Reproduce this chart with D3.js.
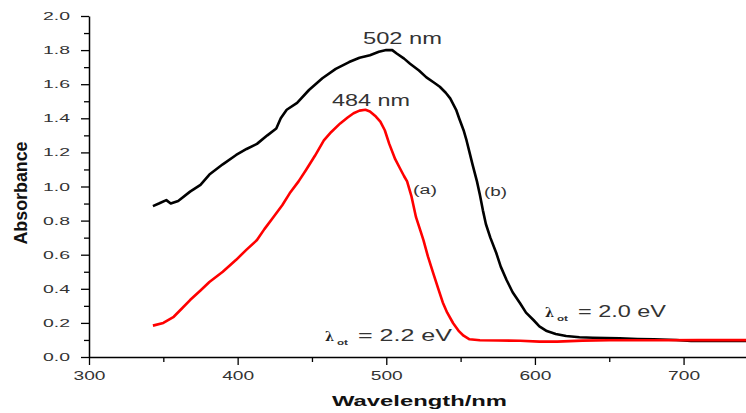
<!DOCTYPE html>
<html><head><meta charset="utf-8">
<script src="https://cdn.jsdelivr.net/npm/d3@7"></script>
<style>body{margin:0;background:#fff}svg{display:block}</style>
</head><body>
<svg id="c" width="746" height="413"></svg>
<script>
// Wavelength (nm) and absorbance, curve (a) red
const wavelengthA = [343,350,357,362,368,375,381,390,399,406,413,418,424,430,435,441,446,452,458,463,469,474,478,482,486,489,493,496,499,502,506,509,512,514,517,520,523,525,528,532,535,538,541,545,549,552,556,563,575,590,603,615,632,650,680,710,742];
const absorbA =     [0.184,0.20,0.236,0.28,0.334,0.39,0.44,0.50,0.57,0.63,0.686,0.75,0.82,0.89,0.96,1.03,1.097,1.18,1.27,1.32,1.37,1.405,1.43,1.445,1.45,1.44,1.41,1.38,1.33,1.25,1.16,1.11,1.06,1.03,0.94,0.82,0.74,0.686,0.59,0.48,0.40,0.32,0.26,0.198,0.15,0.125,0.104,0.098,0.097,0.095,0.09,0.09,0.096,0.098,0.098,0.099,0.099];
// curve (b) black
const wavelengthB = [343,347,352,355,360,368,375,381,390,399,406,413,420,426,429,433,440,448,457,466,475,482,489,495,500,504,507,512,516,522,527,532,536,540,543,547,549,552,554,556,558,561,563,565,567,570,574,577,581,585,590,594,599,603,608,614,621,630,639,648,657,669,680,695,705,720,742];
const absorbB =     [0.885,0.90,0.92,0.90,0.915,0.97,1.01,1.07,1.13,1.185,1.22,1.25,1.30,1.34,1.40,1.45,1.49,1.566,1.635,1.69,1.73,1.755,1.77,1.79,1.80,1.80,1.78,1.75,1.72,1.68,1.64,1.61,1.585,1.55,1.517,1.45,1.40,1.33,1.27,1.20,1.13,1.03,0.95,0.86,0.78,0.70,0.61,0.53,0.45,0.38,0.315,0.26,0.217,0.18,0.152,0.135,0.123,0.116,0.113,0.111,0.11,0.106,0.104,0.10,0.094,0.094,0.094];
const xTicks = [300,400,500,600,700];
const xMinor = [350,450,550,650];
const yTicks = [0.0,0.2,0.4,0.6,0.8,1.0,1.2,1.4,1.6,1.8,2.0];
const yMinor = [0.1,0.3,0.5,0.7,0.9,1.1,1.3,1.5,1.7,1.9];

const svg = d3.select("#c");
const x = d3.scaleLinear().domain([300,742]).range([89,746]);
const y = d3.scaleLinear().domain([0,2]).range([357,16]);

const font = "Liberation Sans, Arial, sans-serif";

// axes
const gx = svg.append("g").attr("transform","translate(0,357)")
  .call(d3.axisBottom(x).tickValues(xTicks).tickFormat(d3.format("d")).tickSize(8).tickSizeOuter(0).tickPadding(5));
const gxm = svg.append("g").attr("transform","translate(0,357)")
  .call(d3.axisBottom(x).tickValues(xMinor).tickFormat("").tickSize(5).tickSizeOuter(0));
const gy = svg.append("g").attr("transform","translate(89,0)")
  .call(d3.axisLeft(y).tickValues(yTicks).tickFormat(d3.format(".1f")).tickSize(8).tickSizeOuter(0).tickPadding(11));
const gym = svg.append("g").attr("transform","translate(89,0)")
  .call(d3.axisLeft(y).tickValues(yMinor).tickFormat("").tickSize(5).tickSizeOuter(0));
[gx,gxm,gy,gym].forEach(g=>{
  g.selectAll("path").attr("stroke","#000").attr("stroke-width",1.5);
  g.selectAll("line").attr("stroke","#000").attr("stroke-width",1.3);
  g.selectAll("text").attr("font-family",font).attr("fill","#333")
    .attr("lengthAdjust","spacingAndGlyphs");
});
gym.select("path").remove(); gxm.select("path").remove();
gx.selectAll("text").attr("font-size",12).attr("dy","0.85em").attr("textLength",32);
gy.selectAll("text").attr("font-size",11).attr("textLength",27);

// lines
const line = d3.line().x(d=>x(d[0])).y(d=>y(d[1]));
svg.append("path").datum(wavelengthB.map((w,i)=>[w,absorbB[i]]))
  .attr("d",line).attr("fill","none").attr("stroke","#000").attr("stroke-width",2.6).attr("stroke-linejoin","round");
svg.append("path").datum(wavelengthA.map((w,i)=>[w,absorbA[i]]))
  .attr("d",line).attr("fill","none").attr("stroke","#ff0000").attr("stroke-width",2.6).attr("stroke-linejoin","round");

// annotations
function txt(xp, yp, s, size, len, opts={}){
  const t = svg.append("text").attr("x",xp).attr("y",yp).attr("font-family",font)
    .attr("font-size",size).attr("fill",opts.fill||"#333").text(s);
  if (len) t.attr("textLength",len).attr("lengthAdjust","spacingAndGlyphs");
  if (opts.weight) t.attr("font-weight",opts.weight);
  return t;
}
txt(363, 44, "502 nm", 16, 79);
txt(332, 106, "484 nm", 16, 78);
txt(413, 194, "(a)", 12, 24);
txt(484, 196, "(b)", 12, 23);

function lam(xp, yp, val, len){
  svg.append("text").attr("x",xp).attr("y",yp).attr("font-family","DejaVu Serif, serif")
    .attr("font-weight","bold").attr("font-size",13).attr("fill","#222").text("λ");
  txt(xp+12, yp+4, "ot", 8, 11, {weight:"bold"});
  txt(xp+33, yp, "= " + val + " eV", 16, len);
}
lam(325, 341, "2.2", 94);
lam(545, 317, "2.0", 88);

// axis titles
svg.append("text").attr("transform","translate(27,193) rotate(-90)").attr("text-anchor","middle")
  .attr("font-family",font).attr("font-weight","bold").attr("font-size",18).attr("fill","#111")
  .attr("textLength",103).attr("lengthAdjust","spacingAndGlyphs").text("Absorbance");
svg.append("text").attr("x",332).attr("y",406)
  .attr("font-family",font).attr("font-weight","bold").attr("font-size",15).attr("fill","#111")
  .attr("textLength",175).attr("lengthAdjust","spacingAndGlyphs").text("Wavelength/nm");
</script>
</body></html>
